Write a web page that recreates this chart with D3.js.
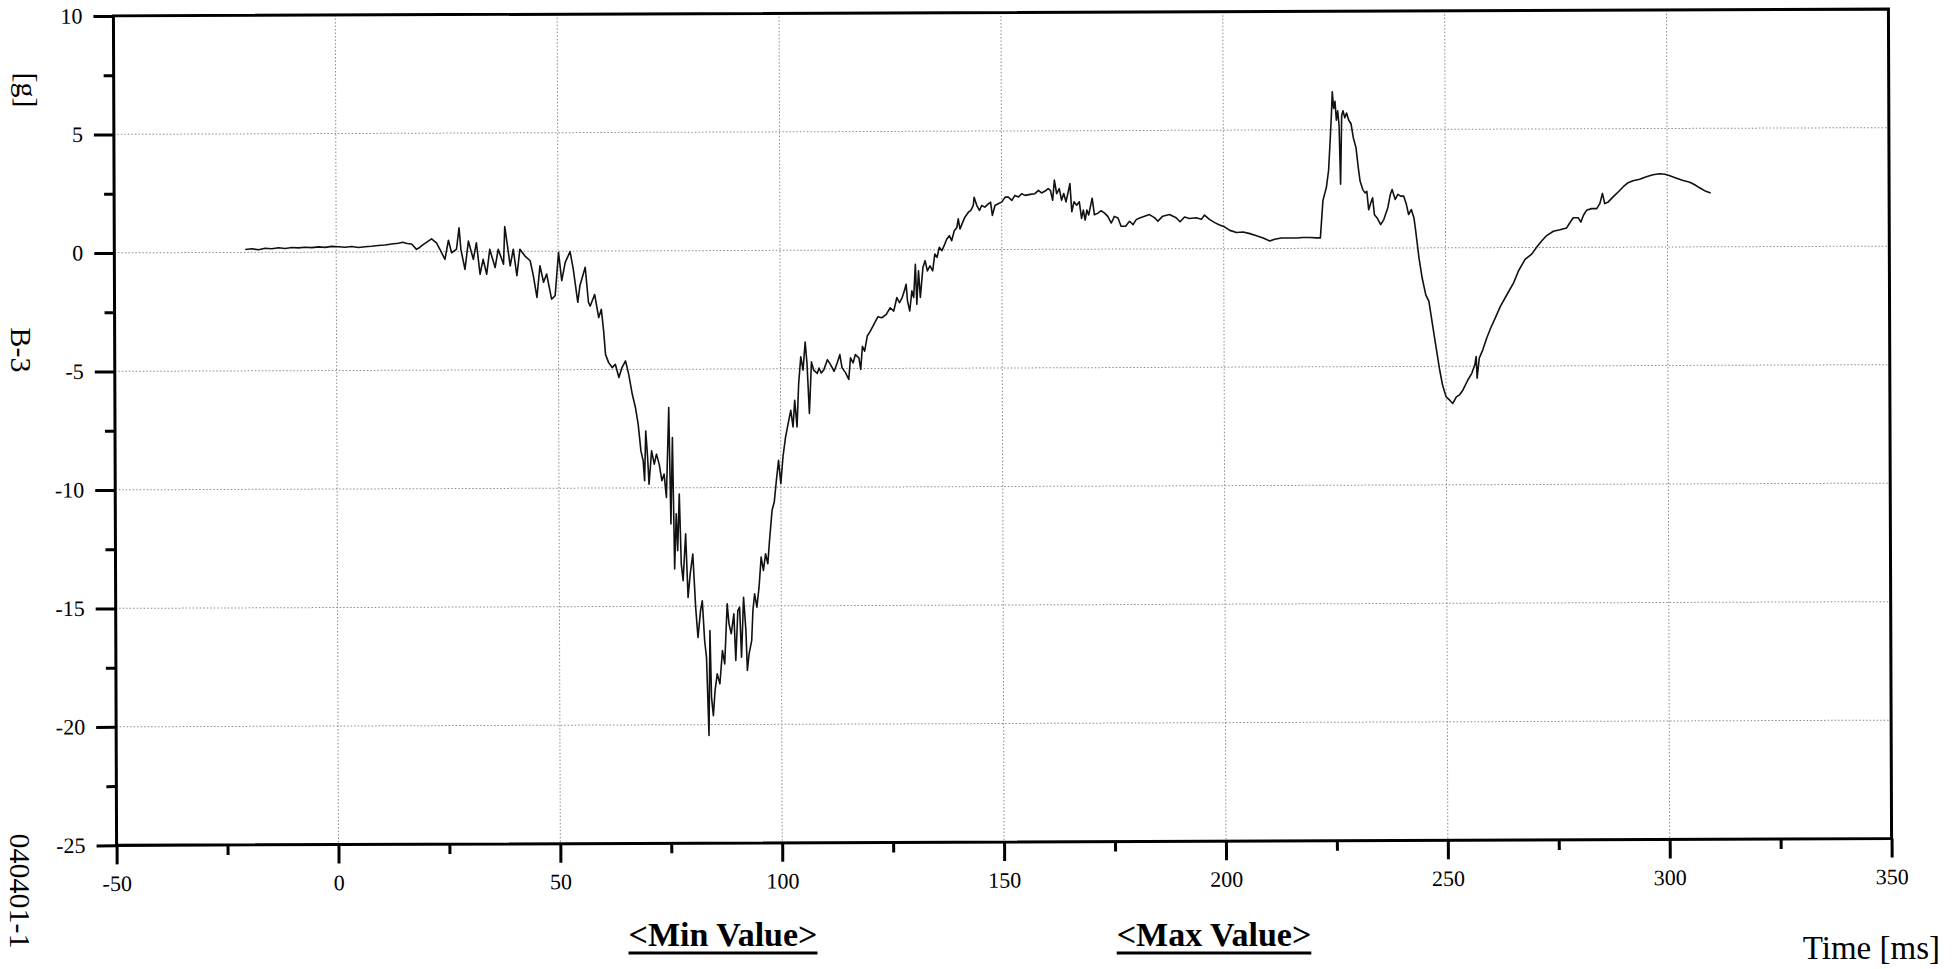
<!DOCTYPE html>
<html>
<head>
<meta charset="utf-8">
<script src="https://cdn.jsdelivr.net/npm/d3@7/dist/d3.min.js"></script>
<style>
  html, body { margin: 0; padding: 0; background: #fff; }
  svg { display: block; }
  text { font-family: "Liberation Serif", "Times New Roman", serif; fill: #000; }
</style>
</head>
<body>
<svg id="chart" width="1956" height="969"></svg>
<script>
// ---- data ----
const timeMs = [
-20.5,-19,-17.5,-16,-14.5,-13,-11.5,-10,-8.5,-7,-5.5,-4,-2.5,-1,0.5,2,3.5,5,6.5,8,9.5,11,12.5,14,15,16,17,18.1,18.8,19.6,
21.5,22.6,23.4,24.5,25.3,26,27.1,27.7,28.1,29,29.8,30.9,31.6,32.4,33.1,33.9,34.6,35.8,36.5,37.7,38,38.6,39.2,39.9,40.7,41.4,42.5,43.7,44.4,45.2,45.9,46.7,47.4,48.5,49.3,50.1,50.8,51.6,52.7,53.4,54.4,54.9,56.1,56.8,
57.2,58.2,59.1,59.7,60.2,60.6,61.3,62.1,62.8,63.6,64.3,65.1,65.8,66.6,67.3,67.9,68.5,69,69.3,69.6,70,70.3,70.9,71.5,72,72.6,73.2,73.7,74.2,74.8,75.2,75.6,76,76.4,76.7,77.1,77.5,77.9,78.5,79,79.5,80.1,80.7,81.2,81.8,82.2,82.7,83.1,83.6,83.9,84.2,84.6,85,85.5,86.1,86.7,87.2,87.8,88.2,88.7,89.3,89.7,90.2,90.6,91,91.5,92,92.3,92.7,93.3,93.6,94,94.5,95,95.5,96,96.5,97,97.4,98,98.5,99,99.5,100,100.5,101.1,101.7,102.3,102.8,103.2,103.7,104.1,104.6,105.1,105.6,106,106.5,107,107.5,108.3,
108.7,109.2,109.8,110.6,111.3,112.1,112.8,113.4,113.9,114.7,115.4,115.8,116.4,116.9,117.7,118.1,118.5,119,119.6,120.3,121.1,122,122.9,123.9,124.8,125.6,126.3,126.9,127.5,128,128.4,128.7,129.2,129.7,130.1,130.5,130.8,131.2,131.6,132.2,132.7,133.2,133.8,134.4,134.9,135.4,135.9,136.5,137,137.6,138.2,138.7,139.3,139.9,140.2,140.6,141.2,141.7,142.5,143,143.6,143.8,144.4,145,145.5,146.2,147,147.5,147.9,148.5,149.2,150,150.8,151.5,152.3,153,153.8,154.5,155.3,156.4,157.5,158.3,159,159.8,160.5,161,161.5,161.9,162.4,163,163.5,164,164.5,165,165.4,165.8,166.3,166.9,167.5,168,168.4,168.8,169.2,169.6,
170.4,170.9,171.7,172.4,173.2,173.9,174.7,175.4,176.2,176.9,177.9,178.8,179.6,180.3,181.1,182.2,183.3,184.5,185.2,186.3,187.8,189.3,190.2,191.2,192.3,193.8,195,195.7,196.8,198,199.1,200.2,201.4,202.9,204.4,205.9,207.4,208.9,210.4,211.5,213,214.9,216.4,217.9,219.4,220.9,221.8,
222.4,223.2,223.7,224.1,224.4,224.6,224.9,225.2,225.5,225.8,226.1,226.4,226.7,227,227.4,227.8,228.3,
228.8,229.3,229.9,230.4,230.8,231.4,231.9,232.3,232.7,233.2,233.6,234,234.6,235.4,236.1,237,237.6,238,238.7,239.3,239.9,240.6,241.2,241.7,242.3,242.9,243.2,244,244.7,245.5,246.2,247,247.7,248.5,249.2,250,250.8,251.5,252.3,253,253.8,254.9,255.8,256.5,256.8,257,257.5,258.3,259.2,260.1,261.3,
262.3,263.8,265.3,266.4,267.9,269.4,270.6,271.7,272.8,274.3,275.8,277.3,278.1,278.8,279.9,280.5,281.1,281.8,282.9,284.1,284.8,285.4,285.9,286.7,287.8,289,290.1,291.2,292.3,293.8,295.3,296.8,298.3,299.5,300.6,302.1,303.6,305.1,306.2,307.4,308.7,309.8
];
const accelG = [
0.12,0.15,0.11,0.17,0.15,0.19,0.16,0.2,0.18,0.21,0.19,0.22,0.2,0.24,0.22,0.2,0.23,0.19,0.22,0.24,0.27,0.29,0.33,0.36,0.4,0.35,0.33,0.1,0.18,0.3,
0.54,0.37,0.09,-0.33,0.48,-0.05,0.09,1.0,0.09,-0.75,0.44,-0.33,0.37,-0.96,-0.33,-0.96,0.09,-0.68,0.09,-0.54,1.05,0.23,-0.61,0.09,-1.03,0.09,-0.19,-0.4,-1.03,-1.95,-0.61,-1.31,-0.96,-2.02,-1.88,-0.05,-1.24,-0.47,-0.02,-0.75,-2.16,-1.45,-0.68,-2.16,
-2.32,-1.83,-2.81,-2.46,-3.38,-4.36,-4.71,-4.92,-4.78,-5.34,-4.92,-4.64,-5.2,-6.05,-6.61,-7.31,-8.44,-8.86,-9.7,-7.6,-8.72,-9.85,-8.44,-9.0,-8.58,-9.0,-9.7,-9.42,-10.41,-6.61,-11.53,-7.88,-13.43,-11.1,-12.66,-10.27,-13.22,-13.92,-11.95,-14.63,-13.64,-12.8,-15.05,-16.32,-15.19,-14.77,-16.46,-17.16,-20.46,-16.03,-18.85,-19.62,-18.57,-17.86,-18.28,-16.88,-17.44,-14.91,-15.75,-16.17,-15.33,-17.3,-15.19,-15.05,-17.16,-14.63,-16.03,-17.72,-17.02,-16.46,-15.19,-14.49,-15.05,-14.21,-12.94,-13.5,-12.8,-13.22,-12.24,-10.97,-10.62,-9.7,-8.86,-9.85,-8.72,-7.88,-7.31,-6.75,-7.45,-6.33,-7.45,-5.63,-4.5,-5.06,-3.87,-4.78,-6.89,-4.71,-5.06,-5.2,
-4.97,-5.18,-5.04,-4.62,-4.83,-5.11,-4.76,-4.41,-4.97,-5.18,-5.46,-4.55,-4.76,-4.41,-4.55,-5.04,-4.06,-4.27,-3.63,-3.42,-3.14,-2.82,-2.86,-2.72,-2.44,-2.58,-2.01,-2.23,-2.01,-1.73,-1.45,-2.15,-2.58,-1.73,-2.01,-0.61,-2.3,-0.89,-2.01,-0.75,-0.46,-0.89,-0.68,-0.89,-0.18,-0.32,0.1,-0.04,0.17,0.45,0.59,0.38,0.8,0.94,1.3,0.87,1.15,1.37,1.58,1.65,1.86,2.21,1.86,1.65,1.86,1.79,1.93,2.0,1.44,1.86,1.93,2.0,2.21,2.21,2.07,2.28,2.21,2.35,2.28,2.32,2.35,2.49,2.38,2.46,2.56,2.49,2.07,2.92,2.35,2.56,2.07,2.35,2.0,2.42,2.77,1.58,2.0,1.86,2.0,1.3,1.65,1.23,1.65,1.44,
2.15,1.45,1.52,1.62,1.52,1.38,1.1,1.38,1.31,0.96,0.96,1.17,1.03,1.24,1.31,1.38,1.45,1.31,1.17,1.38,1.45,1.31,1.14,1.34,1.28,1.31,1.24,1.42,1.24,1.1,1.0,0.92,0.77,0.68,0.7,0.63,0.54,0.44,0.32,0.39,0.44,0.44,0.44,0.46,0.46,0.44,0.44,
2.01,2.58,3.28,4.6,5.7,6.6,5.9,6.2,5.4,5.8,5.2,2.7,5.6,5.8,5.5,5.7,5.4,
5.25,4.66,4.24,3.39,2.82,2.47,2.33,2.4,1.62,1.91,2.12,1.41,1.27,0.99,1.2,1.69,2.26,2.47,2.05,2.26,2.19,2.19,1.84,1.41,1.62,1.27,0.85,-0.42,-1.27,-1.98,-2.26,-3.25,-4.1,-5.08,-5.79,-6.29,-6.43,-6.57,-6.29,-6.21,-6.0,-5.58,-5.3,-4.94,-4.59,-5.51,-4.66,-4.31,-3.81,-3.39,-2.9,
-2.48,-1.98,-1.49,-0.99,-0.5,-0.28,0.03,0.28,0.5,0.68,0.74,0.82,1.06,1.25,1.25,1.06,1.35,1.56,1.63,1.63,1.84,2.27,1.84,1.91,2.12,2.34,2.55,2.72,2.8,2.86,2.97,3.05,3.09,3.07,3.0,2.9,2.8,2.73,2.62,2.48,2.34,2.27
];
const xTicks = [-50, 0, 50, 100, 150, 200, 250, 300, 350];
const xMinorTicks = [-25, 25, 75, 125, 175, 225, 275, 325];
const yTicks = [10, 5, 0, -5, -10, -15, -20, -25];
const yMinorTicks = [7.5, 2.5, -2.5, -7.5, -12.5, -17.5, -22.5];
const yAxisUnit = "[g]";
const channelName = "B-3";
const testId = "040401-1";
const xAxisTitle = "Time [ms]";
const minLabel = "<Min Value>";
const maxLabel = "<Max Value>";

// ---- layout ----
const svg = d3.select("#chart");
const L = 115, R = 1890, T = 12.5, B = 842;
const x = d3.scaleLinear().domain([-50, 350]).range([L, R]);
const y = d3.scaleLinear().domain([-25, 10]).range([B, T]);

// the scanned sheet is slightly rotated
const g = svg.append("g").attr("transform", "rotate(-0.218, 1002.5, 427)");

// gridlines
const grid = g.append("g").attr("stroke", "#8a8a8a").attr("stroke-width", 1).attr("stroke-dasharray", "1.5,2");
grid.selectAll("line.vx").data(xTicks.filter(d => d > -50 && d < 350)).enter().append("line")
  .attr("x1", d => x(d)).attr("x2", d => x(d)).attr("y1", T).attr("y2", B);
grid.selectAll("line.hy").data(yTicks.filter(d => d > -25 && d < 10)).enter().append("line")
  .attr("y1", d => y(d)).attr("y2", d => y(d)).attr("x1", L).attr("x2", R);

// data line
const line = d3.line().x((d, i) => x(timeMs[i])).y((d, i) => y(accelG[i]));
g.append("path").datum(accelG).attr("d", line)
  .attr("fill", "none").attr("stroke", "#111").attr("stroke-width", 1.6).attr("stroke-linejoin", "round");

// axes
function styleAxis(sel) {
  sel.select(".domain").remove();
  sel.selectAll(".tick line").attr("stroke", "#000").attr("stroke-width", 3);
  sel.selectAll(".tick text").style("font-size", "22px").style("font-family", "'Liberation Serif', serif").attr("fill", "#000");
}
const fmt = d => String(d);
g.append("g").attr("transform", `translate(0,${B})`)
  .call(d3.axisBottom(x).tickValues(xTicks).tickSize(19).tickPadding(11).tickFormat(fmt)).call(styleAxis);
g.append("g").attr("transform", `translate(0,${B})`)
  .call(d3.axisBottom(x).tickValues(xMinorTicks).tickSize(10).tickFormat("")).call(styleAxis);
g.append("g").attr("transform", `translate(${L},0)`)
  .call(d3.axisLeft(y).tickValues(yTicks).tickSize(20).tickPadding(11).tickFormat(fmt)).call(styleAxis);
g.append("g").attr("transform", `translate(${L},0)`)
  .call(d3.axisLeft(y).tickValues(yMinorTicks).tickSize(10).tickFormat("")).call(styleAxis);

// frame
g.append("rect").attr("x", L).attr("y", T).attr("width", R - L).attr("height", B - T)
  .attr("fill", "none").attr("stroke", "#000").attr("stroke-width", 3);

// side labels (rotated, read top to bottom)
function sideLabel(txt, cx, cy) {
  svg.append("text").attr("transform", `translate(${cx},${cy}) rotate(90)`)
    .attr("text-anchor", "middle").attr("dominant-baseline", "central")
    .style("font-size", "30px").text(txt);
}
sideLabel(yAxisUnit, 27, 90);
sideLabel(channelName, 21, 350);
sideLabel(testId, 20, 891);

// x title
svg.append("text").attr("x", 1940).attr("y", 959).attr("text-anchor", "end")
  .style("font-size", "33px").text(xAxisTitle);

// min / max headers (bold, underlined)
function header(txt, cx, by) {
  const t = svg.append("text").attr("x", cx).attr("y", by).attr("text-anchor", "middle")
    .style("font-size", "34px").style("font-weight", "bold").text(txt);
  const w = t.node().getComputedTextLength();
  svg.append("line").attr("x1", cx - w / 2).attr("x2", cx + w / 2)
    .attr("y1", by + 7).attr("y2", by + 7).attr("stroke", "#000").attr("stroke-width", 3);
}
header(minLabel, 723, 946);
header(maxLabel, 1214, 946);
</script>
</body>
</html>
